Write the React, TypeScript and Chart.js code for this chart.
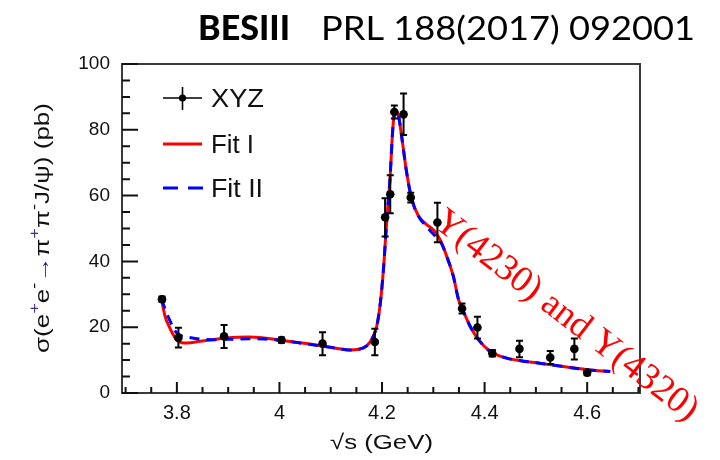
import { useEffect, useRef } from "react";
import { Chart, registerables } from "chart.js";

Chart.register(...registerables);

// Measured e+e- -> pi+ pi- J/psi cross section (pb) vs. sqrt(s) (GeV)
const energies = [3.771, 3.803, 3.892, 4.004, 4.084, 4.186, 4.206, 4.216, 4.224, 4.242, 4.256, 4.308, 4.356, 4.386, 4.415, 4.468, 4.528, 4.575, 4.6];
const crossSection = [28.5, 16.8, 17.2, 16.1, 15.0, 15.5, 53.4, 60.4, 85.4, 84.7, 59.4, 51.8, 25.7, 19.9, 12.1, 13.4, 10.8, 13.4, 6.2];
const crossSectionErr = [0.8, 3.0, 3.5, 0.8, 3.5, 4.0, 5.8, 5.8, 2.0, 6.3, 1.5, 6.0, 1.5, 3.3, 1.0, 2.5, 2.0, 3.2, 0.8];

// Fit curves sampled along sqrt(s)
const fitEnergies = [3.770, 3.777, 3.785, 3.793, 3.800, 3.810, 3.820, 3.845, 3.870, 3.900, 3.940, 3.970, 4.000, 4.040, 4.080, 4.110, 4.135, 4.155, 4.170, 4.183, 4.190, 4.196, 4.2025, 4.209, 4.2155, 4.221, 4.2255, 4.232, 4.238, 4.248, 4.258, 4.271, 4.287, 4.300, 4.308, 4.316, 4.326, 4.339, 4.349, 4.356, 4.372, 4.388, 4.411, 4.443, 4.480, 4.510, 4.550, 4.600, 4.645];
const fitOne = [28.5, 23.3, 20.2, 17.7, 16.0, 15.3, 15.2, 15.7, 16.2, 16.8, 17.0, 16.7, 16.1, 15.3, 14.4, 13.6, 13.1, 13.3, 14.3, 17.2, 20.5, 26.4, 37.0, 51.8, 65.0, 80.3, 85.9, 84.4, 78.3, 67.0, 58.9, 53.8, 51.2, 49.6, 48.0, 45.7, 41.6, 35.5, 28.5, 25.8, 20.2, 16.2, 12.6, 10.6, 9.6, 9.0, 8.1, 7.1, 6.5];
const fitTwo = [28.5, 25.5, 22.5, 19.8, 18.2, 17.3, 17.0, 16.4, 16.2, 16.3, 16.5, 16.4, 16.0, 15.2, 14.3, 13.6, 13.1, 13.3, 14.3, 17.2, 20.5, 26.4, 37.0, 51.8, 65.0, 80.3, 85.9, 84.4, 78.3, 67.0, 58.9, 53.8, 50.5, 48.3, 47.0, 45.4, 41.6, 35.5, 28.5, 25.8, 20.2, 16.2, 12.6, 10.6, 9.6, 9.0, 8.1, 7.1, 6.5];

const xTickValues = [3.8, 4.0, 4.2, 4.4, 4.6];
const xTickLabels = ["3.8", "4", "4.2", "4.4", "4.6"];
const yTickValues = [0, 20, 40, 60, 80, 100];
const yTickLabels = ["0", "20", "40", "60", "80", "100"];
const xMinorStep = 0.05;
const yMinorStep = 5;

const legendEntries = ["XYZ", "Fit I", "Fit II"];
const headerBold = "BESIII";
const headerRef = "PRL 188(2017) 092001";
const annotation = "Y(4230) and Y(4320)";
const xTitle = "\u221As (GeV)";

const SANS = "'Liberation Sans', Arial, Helvetica, sans-serif";
const RED = "#ff0000";
const BLUE = "#0000ff";

// Draw text scaled horizontally so it spans the given width
function drawFitted(ctx: CanvasRenderingContext2D, text: string, x: number, y: number, font: string, width: number, color: string) {
  ctx.save();
  ctx.font = font;
  ctx.fillStyle = color;
  ctx.textAlign = "left";
  ctx.textBaseline = "alphabetic";
  const w = ctx.measureText(text).width;
  ctx.translate(x, y);
  ctx.scale(width / w, 1);
  ctx.fillText(text, 0, 0);
  ctx.restore();
}

const frameAndDecor = {
  id: "frameAndDecor",
  beforeDraw(chart: any) {
    const { ctx, width, height } = chart;
    ctx.save();
    ctx.fillStyle = "#ffffff";
    ctx.fillRect(0, 0, width, height);
    ctx.restore();
  },
  afterDatasetsDraw(chart: any) {
    const { ctx } = chart;
    const xs = chart.scales.x;
    const ys = chart.scales.y;
    // error bars
    ctx.save();
    ctx.strokeStyle = "#000";
    ctx.lineWidth = 2;
    energies.forEach((e, i) => {
      const px = xs.getPixelForValue(e);
      const top = ys.getPixelForValue(crossSection[i] + crossSectionErr[i]);
      const bot = ys.getPixelForValue(crossSection[i] - crossSectionErr[i]);
      ctx.beginPath();
      ctx.moveTo(px, top);
      ctx.lineTo(px, bot);
      ctx.moveTo(px - 3.5, top);
      ctx.lineTo(px + 3.5, top);
      ctx.moveTo(px - 3.5, bot);
      ctx.lineTo(px + 3.5, bot);
      ctx.stroke();
    });
    ctx.restore();
  },
  afterDraw(chart: any) {
    const { ctx, chartArea } = chart;
    const { left, right, top, bottom } = chartArea;
    const xs = chart.scales.x;
    const ys = chart.scales.y;

    // frame
    ctx.save();
    ctx.strokeStyle = "#3a3a3a";
    ctx.lineWidth = 2;
    ctx.strokeRect(left, top, right - left, bottom - top);

    // inward ticks
    ctx.strokeStyle = "#111";
    ctx.lineWidth = 2;
    ctx.beginPath();
    for (let v = 3.7; v <= xs.max + 1e-9; v += xMinorStep) {
      const val = Math.round(v * 100) / 100;
      if (val < xs.min) continue;
      const px = xs.getPixelForValue(val);
      const major = xTickValues.some((t) => Math.abs(t - val) < 1e-6);
      ctx.moveTo(px, bottom);
      ctx.lineTo(px, bottom - (major ? 11 : 6));
    }
    for (let v = 0; v <= 100; v += yMinorStep) {
      const py = ys.getPixelForValue(v);
      const major = yTickValues.includes(v);
      ctx.moveTo(left, py);
      ctx.lineTo(left + (major ? 16 : 8), py);
    }
    ctx.stroke();
    ctx.restore();

    // legend
    ctx.save();
    const lx0 = 163, lx1 = 202, rows = [98, 144, 188];
    ctx.strokeStyle = "#000";
    ctx.lineWidth = 1.6;
    ctx.beginPath();
    ctx.moveTo(lx0, rows[0]);
    ctx.lineTo(lx1, rows[0]);
    ctx.moveTo((lx0 + lx1) / 2, rows[0] - 11);
    ctx.lineTo((lx0 + lx1) / 2, rows[0] + 12);
    ctx.stroke();
    ctx.fillStyle = "#000";
    ctx.beginPath();
    ctx.arc((lx0 + lx1) / 2, rows[0], 3.6, 0, Math.PI * 2);
    ctx.fill();
    ctx.lineWidth = 3;
    ctx.strokeStyle = RED;
    ctx.beginPath();
    ctx.moveTo(lx0, rows[1]);
    ctx.lineTo(lx1, rows[1]);
    ctx.stroke();
    ctx.strokeStyle = BLUE;
    ctx.setLineDash([15, 10]);
    ctx.beginPath();
    ctx.moveTo(lx0, rows[2]);
    ctx.lineTo(lx1 + 1, rows[2]);
    ctx.stroke();
    ctx.setLineDash([]);
    ctx.restore();
    const legendWidths = [53, 43, 52];
    legendEntries.forEach((t, i) => {
      drawFitted(ctx, t, 211, rows[i] + 9, `25px ${SANS}`, legendWidths[i], "#111");
    });

    // header
    drawFitted(ctx, headerBold, 198, 40, `900 35px Lato, 'Open Sans', sans-serif`, 92, "#000");
    drawFitted(ctx, headerRef, 321, 40, `32px Lato, 'Open Sans', sans-serif`, 374, "#000");

    // x axis title
    drawFitted(ctx, xTitle, 330, 449, `21px ${SANS}`, 103, "#111");

    // y axis title with superscripts, rotated, spanning 250 px
    ctx.save();
    ctx.translate(49, 353);
    ctx.rotate(-Math.PI / 2);
    ctx.textBaseline = "alphabetic";
    ctx.textAlign = "left";
    const base = `20px ${SANS}`;
    const sup = `14px ${SANS}`;
    const parts: [string, boolean, string][] = [
      ["\u03C3(e", false, "#111"],
      ["+", true, "#3a2a8a"],
      ["e", false, "#111"],
      ["-", true, "#111"],
      ["\u2192", false, "#1a1a7a"],
      ["\u03C0", false, "#111"],
      ["+", true, "#3a2a8a"],
      ["\u03C0", false, "#111"],
      ["-", true, "#111"],
      ["J/\u03C8) (pb)", false, "#111"],
    ];
    let total = 0;
    parts.forEach(([t, s]) => {
      ctx.font = s ? sup : base;
      total += ctx.measureText(t).width;
    });
    ctx.scale(250 / total, 1);
    let cx = 0;
    parts.forEach(([t, s, c]) => {
      ctx.font = s ? sup : base;
      ctx.fillStyle = c;
      ctx.fillText(t, cx, s ? -10 : 0);
      cx += ctx.measureText(t).width;
    });
    ctx.restore();

    // rotated annotation
    ctx.save();
    ctx.translate(566, 316);
    ctx.rotate((37.5 * Math.PI) / 180);
    ctx.font = `37px 'Liberation Serif', 'Times New Roman', serif`;
    ctx.fillStyle = RED;
    ctx.textAlign = "center";
    ctx.textBaseline = "middle";
    ctx.fillText(annotation, 0, 0);
    ctx.restore();
  },
};

export default function App() {
  const canvasRef = useRef<HTMLCanvasElement | null>(null);

  useEffect(() => {
    const canvas = canvasRef.current;
    if (!canvas) return;
    const chart = new Chart(canvas, {
      type: "scatter",
      data: {
        datasets: [
          {
            type: "scatter",
            label: "XYZ",
            data: energies.map((x, i) => ({ x, y: crossSection[i] })),
            pointRadius: 4.3,
            pointBackgroundColor: "#000",
            pointBorderWidth: 0,
            showLine: false,
          },
          {
            type: "line",
            label: "Fit II",
            data: fitEnergies.map((x, i) => ({ x, y: fitTwo[i] })),
            borderColor: BLUE,
            borderWidth: 3,
            borderDash: [10, 7],
            pointRadius: 0,
            fill: false,
            cubicInterpolationMode: "monotone",
          },
          {
            type: "line",
            label: "Fit I",
            data: fitEnergies.map((x, i) => ({ x, y: fitOne[i] })),
            borderColor: RED,
            borderWidth: 3,
            pointRadius: 0,
            fill: false,
            cubicInterpolationMode: "monotone",
          },
        ] as any,
      },
      options: {
        responsive: false,
        animation: false,
        events: [],
        layout: { padding: { top: 64, right: 80, left: 0, bottom: 0 } },
        plugins: {
          legend: { display: false },
          tooltip: { enabled: false },
          title: { display: false },
        },
        scales: {
          x: {
            type: "linear",
            min: 3.693,
            max: 4.703,
            afterBuildTicks: (axis: any) => {
              axis.ticks = xTickValues.map((v) => ({ value: v }));
            },
            afterFit: (scale: any) => {
              scale.height = 67;
            },
            grid: { display: false, drawTicks: false },
            border: { display: false },
            ticks: {
              padding: 8,
              color: "#111",
              font: { family: SANS, size: 20 },
              maxRotation: 0,
              autoSkip: false,
              callback: (_v: any, i: number) => xTickLabels[i],
            },
          },
          y: {
            type: "linear",
            min: 0,
            max: 100,
            afterBuildTicks: (axis: any) => {
              axis.ticks = yTickValues.map((v) => ({ value: v }));
            },
            afterFit: (scale: any) => {
              scale.width = 122;
            },
            grid: { display: false, drawTicks: false },
            border: { display: false },
            ticks: {
              padding: 12,
              color: "#111",
              font: { family: SANS, size: 19 },
              autoSkip: false,
              callback: (_v: any, i: number) => yTickLabels[i],
            },
          },
        },
      },
      plugins: [frameAndDecor],
    });
    return () => chart.destroy();
  }, []);

  return (
    <div style={{ position: "fixed", left: 0, top: 0, width: 720, height: 460, background: "#fff" }}>
      <canvas ref={canvasRef} width={720} height={460} style={{ display: "block" }} />
    </div>
  );
}
